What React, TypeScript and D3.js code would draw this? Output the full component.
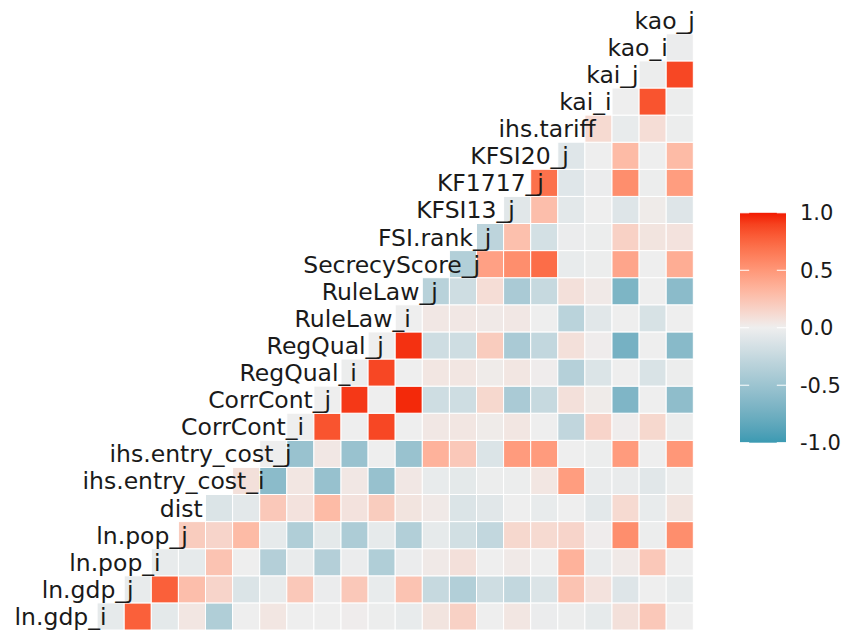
import React, { useEffect, useRef } from 'react';
import * as d3 from 'd3';

const variables = [
  'ln.gdp_i', 'ln.gdp_j', 'ln.pop_i', 'ln.pop_j', 'dist',
  'ihs.entry_cost_i', 'ihs.entry_cost_j', 'CorrCont_i', 'CorrCont_j',
  'RegQual_i', 'RegQual_j', 'RuleLaw_i', 'RuleLaw_j', 'SecrecyScore_j',
  'FSI.rank_j', 'KFSI13_j', 'KF1717_j', 'KFSI20_j', 'ihs.tariff',
  'kai_i', 'kai_j', 'kao_i', 'kao_j',
];

// Each array: correlation of that variable with every variable listed after it
const r_ln_gdp_i = [-0.05, 0.78, -0.06, 0.05, -0.38, 0.0, 0.05, 0.0, 0.0, 0.01, -0.01, -0.04, 0.06, 0.17, 0.0, 0.05, -0.02, -0.01, -0.05, 0.08, 0.22, 0.0];
const r_ln_gdp_j = [-0.04, 0.78, 0.28, 0.15, -0.12, -0.04, 0.22, -0.02, 0.22, -0.04, 0.25, -0.25, -0.37, -0.2, -0.27, -0.12, 0.25, 0.07, -0.1, 0.0, -0.04];
const r_ln_pop_i = [-0.04, -0.05, 0.25, 0.0, -0.36, -0.03, -0.36, -0.02, -0.38, -0.02, 0.03, 0.08, 0.0, 0.03, 0.0, 0.35, -0.03, 0.03, 0.22, 0.0];
const r_ln_pop_j = [0.2, 0.15, 0.3, -0.05, -0.38, -0.06, -0.4, -0.05, -0.37, -0.05, -0.18, -0.27, 0.13, 0.12, 0.15, 0.01, 0.55, -0.01, 0.55];
const r_dist = [-0.12, -0.07, 0.22, 0.07, 0.3, 0.07, 0.2, 0.06, 0.03, -0.12, -0.08, 0.0, -0.04, 0.0, -0.07, 0.12, -0.04, 0.06];
const r_entry_cost_i = [0.08, -0.6, 0.05, -0.53, 0.04, -0.53, 0.04, -0.04, -0.06, -0.01, -0.01, 0.05, 0.47, -0.03, -0.03, -0.08, -0.01];
const r_entry_cost_j = [0.0, -0.52, 0.04, -0.52, 0.0, -0.52, 0.35, 0.22, -0.12, 0.48, 0.48, 0.0, -0.01, 0.48, 0.0, 0.5];
const r_CorrCont_i = [0.0, 0.83, 0.0, 0.88, 0.0, 0.04, 0.05, 0.02, 0.05, 0.0, -0.28, 0.15, 0.01, 0.13, -0.01];
const r_CorrCont_j = [0.0, 0.93, 0.0, 0.97, -0.2, -0.2, 0.13, -0.42, -0.25, 0.08, 0.02, -0.67, 0.0, -0.58];
const r_RegQual_i = [-0.01, 0.88, 0.0, 0.05, 0.05, 0.02, 0.05, 0.01, -0.35, -0.12, 0.0, -0.13, -0.01];
const r_RegQual_j = [0.0, 0.95, -0.2, -0.2, 0.2, -0.42, -0.27, 0.08, 0.01, -0.72, 0.0, -0.62];
const r_RuleLaw_i = [0.0, 0.04, 0.04, 0.03, 0.04, 0.0, -0.32, -0.08, 0.0, -0.14, 0.0];
const r_RuleLaw_j = [-0.33, -0.2, 0.1, -0.42, -0.25, 0.08, 0.03, -0.68, 0.0, -0.6];
const r_SecrecyScore_j = [-0.37, 0.45, 0.55, 0.72, -0.04, -0.01, 0.42, 0.0, 0.38];
const r_FSI_rank_j = [-0.3, 0.27, -0.17, -0.02, -0.01, 0.17, 0.06, 0.07];
const r_KFSI13_j = [-0.08, 0.28, -0.07, 0.0, -0.1, 0.02, -0.1];
const r_KF1717_j = [0.7, -0.09, -0.02, 0.55, -0.01, 0.47];
const r_KFSI20_j = [-0.09, 0.0, 0.3, 0.0, 0.3];
const r_ihs_tariff = [0.12, -0.04, 0.1, -0.01];
const r_kai_i = [0.0, 0.83, -0.01];
const r_kai_j = [-0.01, 0.88];
const r_kao_i = [-0.02];

const corrRows = [
  r_ln_gdp_i, r_ln_gdp_j, r_ln_pop_i, r_ln_pop_j, r_dist, r_entry_cost_i,
  r_entry_cost_j, r_CorrCont_i, r_CorrCont_j, r_RegQual_i, r_RegQual_j,
  r_RuleLaw_i, r_RuleLaw_j, r_SecrecyScore_j, r_FSI_rank_j, r_KFSI13_j,
  r_KF1717_j, r_KFSI20_j, r_ihs_tariff, r_kai_i, r_kai_j, r_kao_i,
];

const legendTicks = [1, 0.5, 0, -0.5, -1];
const legendTickLabels = ['1.0', '0.5', '0.0', '-0.5', '-1.0'];

const LOW = '#3B9AB2';
const MID = '#EEEEEE';
const HIGH = '#F21A00';
const FONT = 'DejaVu Sans';

export default function App() {
  const ref = useRef<SVGSVGElement>(null);

  useEffect(() => {
    const svg = d3.select(ref.current);
    svg.selectAll('*').remove();

    const x = d3.scaleBand<string>().domain(variables).range([70, 693.3]);
    const y = d3.scaleBand<string>().domain([...variables].reverse()).range([6.7, 630]);
    const color = d3
      .scaleLinear<string>()
      .domain([-1, 0, 1])
      .range([LOW, MID, HIGH])
      .interpolate(d3.interpolateLab);

    const cells: { xv: string; yv: string; v: number }[] = [];
    corrRows.forEach((row, i) => {
      row.forEach((v, k) => {
        cells.push({ yv: variables[i], xv: variables[i + 1 + k], v });
      });
    });

    svg
      .append('g')
      .selectAll('rect')
      .data(cells)
      .join('rect')
      .attr('x', (d) => x(d.xv)!)
      .attr('y', (d) => y(d.yv)!)
      .attr('width', x.bandwidth())
      .attr('height', y.bandwidth())
      .attr('fill', (d) => color(d.v))
      .attr('stroke', 'white')
      .attr('stroke-width', 1);

    // diagonal labels, hjust = 0.75 at the diagonal cell centre
    const lg = svg.append('g');
    variables.forEach((v) => {
      const t = lg
        .append('text')
        .text(v)
        .attr('font-family', FONT)
        .attr('font-size', 23.5)
        .attr('fill', '#1a1a1a')
        .attr('text-anchor', 'end')
        .attr('dy', '0.36em')
        .attr('y', y(v)! + y.bandwidth() / 2);
      const w = (t.node() as SVGTextElement).getComputedTextLength();
      t.attr('x', x(v)! + x.bandwidth() / 2 + 0.25 * w);
    });

    // legend colour bar
    const barX = 740;
    const barW = 46;
    const ly = d3.scaleLinear().domain([1, -1]).range([212.8, 442.7]);
    const defs = svg.append('defs');
    const grad = defs
      .append('linearGradient')
      .attr('id', 'corrgrad')
      .attr('x1', 0)
      .attr('y1', 0)
      .attr('x2', 0)
      .attr('y2', 1);
    d3.range(0, 21).forEach((i) => {
      const val = 1 - (2 * i) / 20;
      grad
        .append('stop')
        .attr('offset', `${(i / 20) * 100}%`)
        .attr('stop-color', color(val));
    });
    const lgd = svg.append('g');
    lgd
      .append('rect')
      .attr('x', barX)
      .attr('y', ly(1))
      .attr('width', barW)
      .attr('height', ly(-1) - ly(1))
      .attr('fill', 'url(#corrgrad)');
    const tickLen = barW / 5;
    legendTicks.forEach((tv, i) => {
      const yy = ly(tv);
      lgd
        .append('line')
        .attr('x1', barX)
        .attr('x2', barX + tickLen)
        .attr('y1', yy)
        .attr('y2', yy)
        .attr('stroke', 'white')
        .attr('stroke-width', 1);
      lgd
        .append('line')
        .attr('x1', barX + barW - tickLen)
        .attr('x2', barX + barW)
        .attr('y1', yy)
        .attr('y2', yy)
        .attr('stroke', 'white')
        .attr('stroke-width', 1);
      lgd
        .append('text')
        .text(legendTickLabels[i])
        .attr('x', 800)
        .attr('y', yy)
        .attr('dy', '0.36em')
        .attr('font-family', FONT)
        .attr('font-size', 21)
        .attr('fill', '#1a1a1a');
    });
  }, []);

  return (
    <svg
      ref={ref}
      width={846}
      height={630}
      style={{ position: 'absolute', left: 0, top: 0, background: 'white' }}
    />
  );
}
